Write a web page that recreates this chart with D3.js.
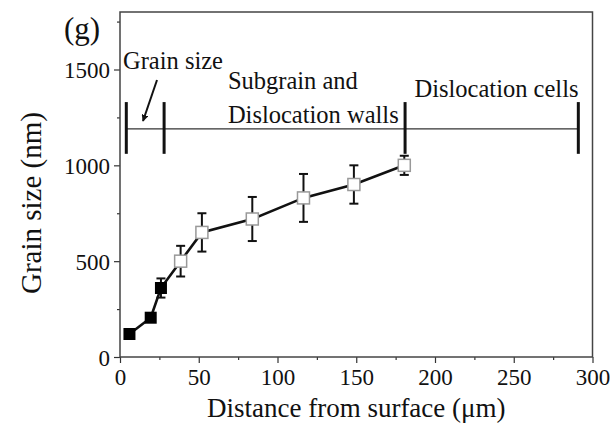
<!DOCTYPE html>
<html>
<head>
<meta charset="utf-8">
<script src="https://cdn.jsdelivr.net/npm/d3@7"></script>
<style>
  body { margin: 0; background: #fff; }
  svg text { font-family: "Liberation Serif", "Times New Roman", serif; fill: #111; }
</style>
</head>
<body>
<script>
// surface layer (filled squares) and deeper layer (open squares)
const filledX = [6, 19.5, 26];
const filledY = [120, 205, 360];
const filledErr = [20, 20, 50];
const openX = [38.5, 52, 84, 116.5, 148.5, 180.5];
const openY = [500, 650, 720, 830, 900, 1000];
const openErr = [80, 100, 115, 125, 100, 50];

// microstructure regions along the depth
const regionBounds = [4, 28, 181, 291];
const regionLevel = 1190;
const regionBarTop = 1330;
const regionBarBottom = 1060;

const xTicks = [0, 50, 100, 150, 200, 250, 300];
const yTicks = [0, 500, 1000, 1500];

const width = 613;
const height = 435;
const margin = { top: 12, right: 20.5, bottom: 78, left: 120 };
const innerW = width - margin.left - margin.right;
const innerH = height - margin.top - margin.bottom;

const x = d3.scaleLinear().domain([0, 300]).range([0, innerW]);
const y = d3.scaleLinear().domain([0, 1800]).range([innerH, 0]);

const svg = d3
  .select("body")
  .append("svg")
  .attr("width", width)
  .attr("height", height);

const defs = svg.append("defs");
defs
  .append("marker")
  .attr("id", "arrow")
  .attr("viewBox", "0 0 10 10")
  .attr("refX", 9)
  .attr("refY", 5)
  .attr("markerWidth", 7)
  .attr("markerHeight", 7)
  .attr("markerUnits", "userSpaceOnUse")
  .attr("orient", "auto")
  .append("path")
  .attr("d", "M0,0L10,5L0,10z")
  .attr("fill", "#111");

const g = svg
  .append("g")
  .attr("transform", "translate(" + margin.left + "," + margin.top + ")");

// axes
const xAxis = g
  .append("g")
  .attr("transform", "translate(0," + innerH + ")")
  .call(d3.axisBottom(x).tickValues(xTicks).tickSize(6).tickPadding(6).tickFormat(d3.format("d")));
g.append("g")
  .attr("transform", "translate(0," + innerH + ")")
  .call(d3.axisBottom(x).tickValues(d3.range(25, 300, 50)).tickSize(3).tickFormat(""));

const yAxis = g
  .append("g")
  .call(d3.axisLeft(y).tickValues(yTicks).tickSize(6).tickPadding(4).tickFormat(d3.format("d")));
g.append("g")
  .call(d3.axisLeft(y).tickValues(d3.range(250, 1800, 500)).tickSize(3).tickFormat(""));

g.selectAll(".domain").remove();
g.selectAll(".tick line").attr("stroke", "#333").attr("stroke-width", 1.2);
xAxis.selectAll("text").style("font-size", "23px").attr("dy", "0.71em");
yAxis.selectAll("text").style("font-size", "23px").attr("dy", "0.35em");

// frame
g.append("rect")
  .attr("width", innerW)
  .attr("height", innerH)
  .attr("fill", "none")
  .attr("stroke", "#444")
  .attr("stroke-width", 1.5);

// axis titles
svg
  .append("text")
  .attr("x", margin.left + innerW / 2)
  .attr("y", 417)
  .attr("text-anchor", "middle")
  .style("font-size", "27px")
  .text("Distance from surface (\u03bcm)");

svg
  .append("text")
  .attr("transform", "translate(41," + 203 + ")rotate(-90)")
  .attr("text-anchor", "middle")
  .style("font-size", "29px")
  .text("Grain size (nm)");

svg
  .append("text")
  .attr("x", 64)
  .attr("y", 39)
  .style("font-size", "31px")
  .text("(g)");

// region bar
g.append("line")
  .attr("x1", x(regionBounds[0]))
  .attr("x2", x(regionBounds[regionBounds.length - 1]))
  .attr("y1", y(regionLevel))
  .attr("y2", y(regionLevel))
  .attr("stroke", "#333")
  .attr("stroke-width", 1.3);

g.selectAll(".bound")
  .data(regionBounds)
  .enter()
  .append("line")
  .attr("class", "bound")
  .attr("x1", (d) => x(d))
  .attr("x2", (d) => x(d))
  .attr("y1", y(regionBarTop))
  .attr("y2", y(regionBarBottom))
  .attr("stroke", "#111")
  .attr("stroke-width", 3);

// region labels
const labels = [
  { text: "Grain size", x: 1.9, y: 1505 },
  { text: "Subgrain and", x: 68.5, y: 1396 },
  { text: "Dislocation walls", x: 68.5, y: 1221 },
  { text: "Dislocation cells", x: 187, y: 1359 },
];
g.selectAll(".label")
  .data(labels)
  .enter()
  .append("text")
  .attr("class", "label")
  .attr("x", (d) => x(d.x))
  .attr("y", (d) => y(d.y))
  .style("font-size", "24.5px")
  .text((d) => d.text);

g.append("line")
  .attr("x1", 37)
  .attr("y1", 68)
  .attr("x2", 23)
  .attr("y2", 109)
  .attr("stroke", "#111")
  .attr("stroke-width", 2)
  .attr("marker-end", "url(#arrow)");

// data
const filled = filledX.map((d, i) => ({ x: d, y: filledY[i], e: filledErr[i] }));
const open = openX.map((d, i) => ({ x: d, y: openY[i], e: openErr[i] }));
const all = filled.concat(open);

const line = d3
  .line()
  .x((d) => x(d.x))
  .y((d) => y(d.y));

g.append("path")
  .datum(all)
  .attr("d", line)
  .attr("fill", "none")
  .attr("stroke", "#111")
  .attr("stroke-width", 2.6);

const err = g.selectAll(".err").data(all).enter().append("g").attr("class", "err");
err
  .append("line")
  .attr("x1", (d) => x(d.x))
  .attr("x2", (d) => x(d.x))
  .attr("y1", (d) => y(d.y + d.e))
  .attr("y2", (d) => y(d.y - d.e))
  .attr("stroke", "#111")
  .attr("stroke-width", 2);
err
  .selectAll(".cap")
  .data((d) => [
    { x: d.x, y: d.y + d.e },
    { x: d.x, y: d.y - d.e },
  ])
  .enter()
  .append("line")
  .attr("x1", (d) => x(d.x) - 4.5)
  .attr("x2", (d) => x(d.x) + 4.5)
  .attr("y1", (d) => y(d.y))
  .attr("y2", (d) => y(d.y))
  .attr("stroke", "#111")
  .attr("stroke-width", 2);

const size = 12;
g.selectAll(".filled")
  .data(filled)
  .enter()
  .append("rect")
  .attr("x", (d) => x(d.x) - size / 2)
  .attr("y", (d) => y(d.y) - size / 2)
  .attr("width", size)
  .attr("height", size)
  .attr("fill", "#000");

g.selectAll(".open")
  .data(open)
  .enter()
  .append("rect")
  .attr("x", (d) => x(d.x) - size / 2)
  .attr("y", (d) => y(d.y) - size / 2)
  .attr("width", size)
  .attr("height", size)
  .attr("fill", "#fff")
  .attr("stroke", "#999")
  .attr("stroke-width", 1.5);
</script>
</body>
</html>
